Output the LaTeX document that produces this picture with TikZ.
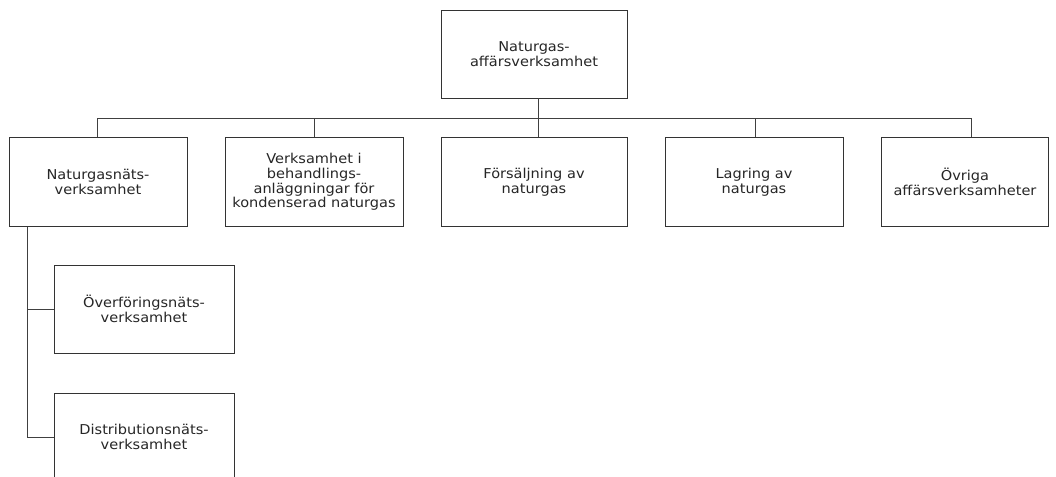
\documentclass[tikz,border=0pt]{standalone}
\usepackage{fontspec}
\setmainfont{DejaVu Sans}[FakeStretch=1.07]
\begin{document}
\begin{tikzpicture}[x=1pt,y=-1pt,
  box/.style={draw=black!80, line width=0.9pt, minimum width=178pt, minimum height=89pt, align=center, inner sep=0pt,
    font=\fontsize{13.6}{14.7}\selectfont, text=black!85},
  conn/.style={draw=black!75, line width=0.9pt}]
\clip (0,0) rectangle (1056,476);
\useasboundingbox (0,0) rectangle (1056,476);
\node[box, minimum width=186pt, minimum height=88pt] (top) at (534,54) {Naturgas-\\affärsverksamhet};
\node[box] (b1) at (98,182) {Naturgasnäts-\\verksamhet};
\node[box] (b2) at (314,182) {Verksamhet i\\behandlings-\\anläggningar för\\kondenserad naturgas};
\node[box, minimum width=186pt] (b3) at (534,182) {Försäljning av\\naturgas};
\node[box] (b4) at (754,182) {Lagring av\\naturgas};
\node[box, minimum width=167pt] (b5) at (965,182) {Övriga\\affärsverksamheter};
\node[box, minimum width=180pt, minimum height=88pt] (s1) at (144,309) {Överföringsnäts-\\verksamhet};
\node[box, minimum width=180pt, minimum height=88pt] (s2) at (144,437) {Distributionsnäts-\\verksamhet};
\coordinate (bus) at (538,118);
\draw[conn] (top.south -| bus) -- (bus);
\draw[conn] (97,118) -- (971,118);
\draw[conn] (b1.north -| 97,0) -- (97,118);
\draw[conn] (b2.north -| 314,0) -- (314,118);
\draw[conn] (b3.north -| bus) -- (bus);
\draw[conn] (b4.north -| 755,0) -- (755,118);
\draw[conn] (b5.north -| 971,0) -- (971,118);
\coordinate (trunk) at (27,0);
\draw[conn] (b1.south -| trunk) |- (s2.west);
\draw[conn] (s1.west) -- (s1.west -| trunk);
\end{tikzpicture}
\end{document}
